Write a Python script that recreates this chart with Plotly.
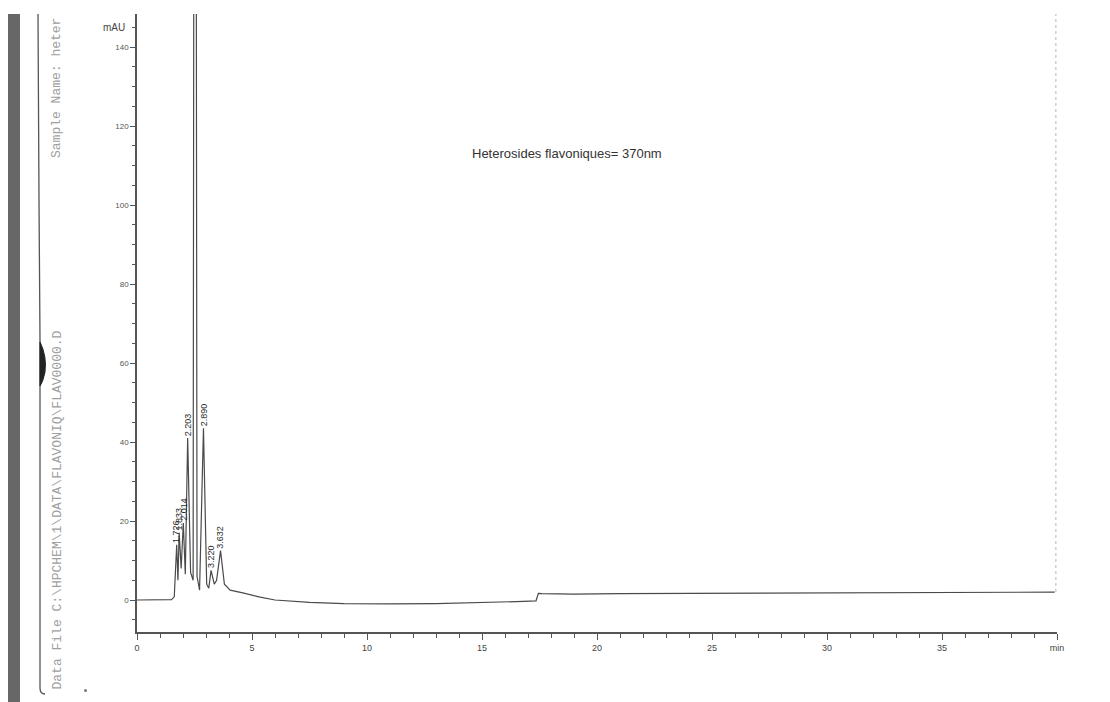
import plotly.graph_objects as go

# Chromatogram trace (retention time in min, absorbance in mAU)
time_min = [0.0, 1.50, 1.62, 1.726, 1.78, 1.833, 1.92, 2.014, 2.10, 2.203, 2.33, 2.44,
            2.52, 2.61, 2.72, 2.890, 3.03, 3.12, 3.220, 3.36, 3.46, 3.632, 3.80,
            4.05, 4.6, 5.3, 6.0, 7.5, 9.0, 11.0, 13.0, 15.0, 16.5, 17.35, 17.45,
            17.6, 19.0, 21.0, 25.0, 30.0, 35.0, 39.9]
signal_mau = [0.0, 0.1, 0.8, 14.0, 5.0, 17.0, 8.0, 19.5, 6.5, 41.0, 7.0, 5.0,
              440.0, 6.0, 2.5, 43.5, 4.0, 3.0, 7.5, 4.0, 5.0, 12.5, 4.0,
              2.5, 1.8, 0.8, 0.0, -0.6, -0.9, -1.0, -0.9, -0.7, -0.4, -0.2, 1.7,
              1.6, 1.5, 1.6, 1.7, 1.8, 1.9, 2.0]

# Integrated peaks: retention-time labels and apex heights
peak_times = [1.726, 1.833, 2.014, 2.203, 2.890, 3.220, 3.632]
peak_heights = [14.0, 17.0, 19.5, 41.0, 43.5, 7.5, 12.5]
peak_labels = ["1.726", "1.833", "2.014", "2.203", "2.890", "3.220", "3.632"]

# Stop-time marker at the end of the run
stop_time = [39.95, 39.95]
stop_level = [2.0, 150.0]

x_ticks = [0, 5, 10, 15, 20, 25, 30, 35, 40]
x_ticktext = ["0", "5", "10", "15", "20", "25", "30", "35", "min"]
y_ticks = [0, 20, 40, 60, 80, 100, 120, 140]

W, H = 1110, 702
ML, MR, MT, MB = 137, 53, 14, 70
PW, PH = W - ML - MR, H - MT - MB


def px(xp):
    return (xp - ML) / PW


def py(yp):
    return (H - MB - yp) / PH


fig = go.Figure()

fig.add_trace(go.Scatter(x=time_min, y=signal_mau, mode="lines",
                         line=dict(color="#4a4a4a", width=1.2),
                         hoverinfo="skip", showlegend=False))
fig.add_trace(go.Scatter(x=stop_time, y=stop_level, mode="lines",
                         line=dict(color="#c4c4c4", width=1.2, dash="dot"),
                         hoverinfo="skip", showlegend=False))

annotations = []
for t, h, lab in zip(peak_times, peak_heights, peak_labels):
    annotations.append(dict(x=t, y=h, xref="x", yref="y", text=lab, textangle=-90,
                            showarrow=False, xanchor="center", yanchor="bottom",
                            yshift=0, font=dict(family="Liberation Sans", size=9,
                                                color="#2a2a2a")))

annotations.append(dict(x=px(567), y=py(153), xref="paper", yref="paper",
                        text="Heterosides flavoniques= 370nm", showarrow=False,
                        xanchor="center", yanchor="middle",
                        font=dict(family="Liberation Sans", size=13, color="#333333")))
annotations.append(dict(x=px(114), y=py(28), xref="paper", yref="paper",
                        text="mAU", showarrow=False,
                        xanchor="center", yanchor="middle",
                        font=dict(family="Liberation Sans", size=10, color="#444444")))
# Printout header, written sideways along the left margin
annotations.append(dict(x=px(57), y=py(160), xref="paper", yref="paper",
                        text="Sample Name: heter", textangle=-90, showarrow=False,
                        xanchor="center", yanchor="bottom",
                        font=dict(family="Liberation Mono", size=13, color="#a0a0a0")))
annotations.append(dict(x=px(57), y=py(692), xref="paper", yref="paper",
                        text="Data File C:\\HPCHEM\\1\\DATA\\FLAVONIQ\\FLAV0000.D",
                        textangle=-90, showarrow=False,
                        xanchor="center", yanchor="bottom",
                        font=dict(family="Liberation Mono", size=13, color="#a0a0a0")))

shapes = [
    # binder strip
    dict(type="rect", xref="paper", yref="paper", x0=px(8), x1=px(20),
         y0=py(702), y1=py(14), fillcolor="#676767", line=dict(width=0), layer="above"),
    # page edge
    dict(type="path", xref="paper", yref="paper",
         path=(f"M {px(38)} {py(14)} L {px(39)} {py(200)} L {px(40)} {py(340)} "
               f"L {px(40)} {py(560)} L {px(40)} {py(688)} Q {px(40)} {py(694)} {px(45)} {py(694)}"),
         line=dict(color="#555555", width=1.3)),
    dict(type="path", xref="paper", yref="paper",
         path=(f"M {px(40)} {py(342)} Q {px(47)} {py(356)} {px(45)} {py(372)} "
               f"Q {px(43)} {py(382)} {px(40)} {py(386)} Z"),
         fillcolor="#222222", line=dict(color="#222222", width=1)),
    dict(type="circle", xref="paper", yref="paper", x0=px(84), x1=px(87),
         y0=py(692), y1=py(689), fillcolor="#777777", line=dict(width=0)),
]

fig.update_layout(
    width=W, height=H,
    margin=dict(l=ML, r=MR, t=MT, b=MB),
    paper_bgcolor="white", plot_bgcolor="white",
    showlegend=False,
    annotations=annotations,
    shapes=shapes,
    xaxis=dict(range=[0, 40], tickvals=x_ticks, ticktext=x_ticktext,
               showline=True, linecolor="#555555", linewidth=1.6,
               ticks="outside", ticklen=6, tickwidth=1.4, tickcolor="#555555",
               minor=dict(dtick=1, ticks="outside", ticklen=4, tickwidth=1.2,
                          tickcolor="#555555"),
               showgrid=False, zeroline=False,
               tickfont=dict(family="Liberation Sans", size=9, color="#444444")),
    yaxis=dict(range=[-8.1, 148.4], tickvals=y_ticks,
               showline=True, linecolor="#555555", linewidth=1.6,
               ticks="outside", ticklen=5, tickwidth=1.2, tickcolor="#555555",
               minor=dict(dtick=5, ticks="outside", ticklen=3, tickwidth=1,
                          tickcolor="#555555"),
               showgrid=False, zeroline=False,
               tickfont=dict(family="Liberation Sans", size=8, color="#555555")),
)

fig.write_html("out.html")
